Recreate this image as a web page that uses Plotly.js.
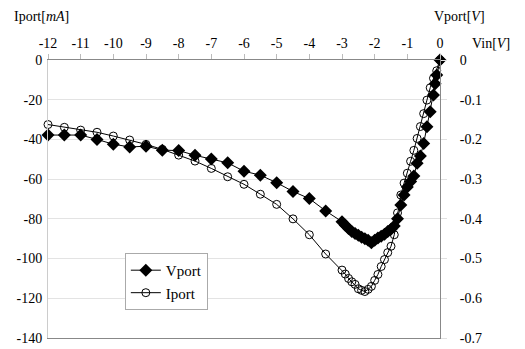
<!DOCTYPE html>
<html>
<head>
<meta charset="utf-8">
<script src="https://cdn.plot.ly/plotly-3.0.1.min.js"></script>
<style>html,body{margin:0;padding:0;background:#fff}#chart{width:525px;height:349px}</style>
</head>
<body>
<div id="chart"></div>
<script>
// Vin [V] for Vport series
const vinV = [-12, -11.5, -11, -10.5, -10, -9.5, -9, -8.5, -8, -7.5, -7, -6.5, -6, -5.5, -5, -4.5, -4, -3.5, -3,
  -2.9, -2.8, -2.7, -2.6, -2.5, -2.4, -2.3, -2.2, -2.1, -2.0, -1.9, -1.8, -1.7, -1.6, -1.5, -1.4, -1.3, -1.2, -1.1,
  -1.0, -0.9, -0.8, -0.7, -0.6, -0.5, -0.4, -0.3, -0.2, -0.15, -0.1, 0];
// Vport [V]
const vport = [-0.189, -0.189, -0.189, -0.200, -0.212, -0.219, -0.217, -0.227, -0.228, -0.240, -0.249, -0.259, -0.280, -0.290, -0.309, -0.331, -0.349, -0.380, -0.407,
  -0.416, -0.424, -0.432, -0.437, -0.441, -0.446, -0.450, -0.454, -0.460, -0.454, -0.448, -0.444, -0.439, -0.432, -0.426, -0.418, -0.400, -0.365, -0.340,
  -0.320, -0.306, -0.292, -0.260, -0.242, -0.210, -0.168, -0.130, -0.088, -0.060, -0.038, 0];
// Vin [V] for Iport series
const vinI = [-12, -11.5, -11, -10.5, -10, -9.5, -9, -8.5, -8, -7.5, -7, -6.5, -6, -5.5, -5, -4.5, -4, -3.5, -3,
  -2.9, -2.8, -2.7, -2.6, -2.5, -2.4, -2.3, -2.2, -2.1, -2.0, -1.9, -1.8, -1.7, -1.6, -1.5, -1.4, -1.3, -1.2, -1.1,
  -1.0, -0.9, -0.8, -0.7, -0.6, -0.5, -0.4, -0.3, -0.2, -0.1, 0];
// Iport [mA]
const iport = [-32.5, -33.9, -35.3, -36.4, -38.3, -40.3, -42.5, -45.0, -47.9, -50.9, -54.6, -58.8, -62.6, -67.6, -72.7, -80.0, -88.0, -97.7, -105.8,
  -107.8, -110.0, -111.7, -113.0, -115.2, -116.0, -116.6, -115.5, -114.0, -111.0, -108.0, -104.0, -100.5, -97.0, -93.8, -88.0, -77.0, -68.0, -62.0,
  -57.0, -51.0, -45.5, -39.5, -33.5, -27.0, -20.2, -14.0, -9.2, -5.4, 0];

const xTickVals = [-12, -11, -10, -9, -8, -7, -6, -5, -4, -3, -2, -1, 0];
const xTickText = ["-12", "-11", "-10", "-9", "-8", "-7", "-6", "-5", "-4", "-3", "-2", "-1", "0"];
const yTickVals = [-140, -120, -100, -80, -60, -40, -20, 0];
const yTickText = ["-140", "-120", "-100", "-80", "-60", "-40", "-20", "0"];
const y2TickVals = [-0.7, -0.6, -0.5, -0.4, -0.3, -0.2, -0.1, 0];
const y2TickText = ["-0.7", "-0.6", "-0.5", "-0.4", "-0.3", "-0.2", "-0.1", "0"];

const serif = "Liberation Serif";

const traces = [
  {
    x: vinV, y: vport, yaxis: 'y2', name: 'Vport', type: 'scatter', mode: 'lines+markers',
    line: {color: '#000', width: 1},
    marker: {symbol: 'diamond', size: 10, color: '#000'},
    cliponaxis: false
  },
  {
    x: vinI, y: iport, yaxis: 'y', name: 'Iport', type: 'scatter', mode: 'lines+markers',
    line: {color: '#000', width: 1},
    marker: {symbol: 'circle-open', size: 8, color: '#000', line: {width: 1, color: '#000'}},
    cliponaxis: false
  }
];

const tf = {family: serif, size: 14, color: '#000'};

const layout = {
  width: 525, height: 349,
  margin: {l: 48, r: 85, t: 60, b: 11, pad: 0},
  paper_bgcolor: '#fff', plot_bgcolor: '#fff',
  font: {family: serif, size: 14, color: '#000'},
  showlegend: true,
  legend: {
    x: 0.196, y: 0.306, xanchor: 'left', yanchor: 'top',
    bgcolor: '#fff', bordercolor: '#aaa', borderwidth: 1,
    font: {family: serif, size: 15, color: '#000'},
    traceorder: 'normal'
  },
  xaxis: {
    side: 'top', range: [-12, 0], tickvals: xTickVals, ticktext: xTickText,
    ticks: 'outside', ticklen: 5, tickcolor: '#bbb', tickwidth: 1,
    showline: true, linecolor: '#888', linewidth: 1, mirror: true,
    showgrid: false, zeroline: false, ticklabelstandoff: 0,
    tickfont: tf
  },
  yaxis: {
    range: [-140, 0], tickvals: yTickVals, ticktext: yTickText,
    showgrid: true, gridcolor: '#e3e3e3', gridwidth: 1,
    showline: true, linecolor: '#ccc', linewidth: 1,
    zeroline: false, ticks: '', ticklabelstandoff: 2,
    tickfont: tf
  },
  yaxis2: {
    overlaying: 'y', side: 'right', range: [-0.7, 0], tickvals: y2TickVals, ticktext: y2TickText,
    showgrid: false, showline: true, linecolor: '#888', linewidth: 1,
    zeroline: false, ticks: 'outside', ticklen: 6, tickcolor: '#e0e0e0', ticklabelstandoff: 10,
    tickfont: tf
  },
  annotations: [
    {text: 'Iport[<i>mA</i>]', xref: 'paper', yref: 'paper', x: -0.092, y: 1.158, xanchor: 'left', yanchor: 'middle',
     showarrow: false, font: {family: serif, size: 14, color: '#000'}},
    {text: 'Vport[<i>V</i>]', xref: 'paper', yref: 'paper', x: 1.05, y: 1.158, xanchor: 'center', yanchor: 'middle',
     showarrow: false, font: {family: serif, size: 14, color: '#000'}},
    {text: 'Vin[<i>V</i>]', xref: 'paper', yref: 'paper', x: 1.076, y: 1.06, xanchor: 'left', yanchor: 'middle',
     showarrow: false, font: {family: serif, size: 14, color: '#000'}}
  ]
};

Plotly.newPlot('chart', traces, layout, {displayModeBar: false, staticPlot: true});
</script>
</body>
</html>
